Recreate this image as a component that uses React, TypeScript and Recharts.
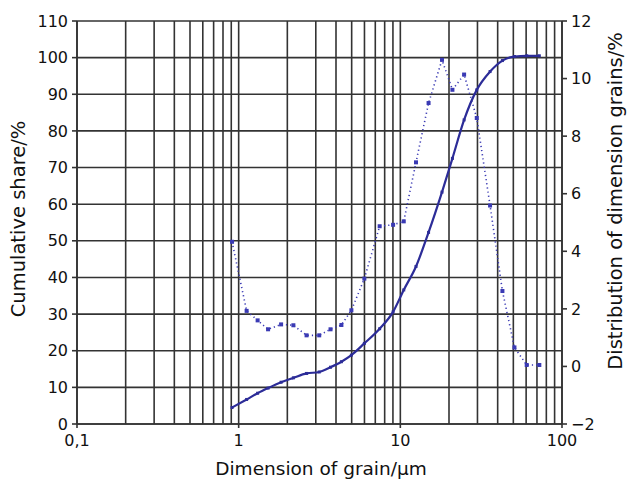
import React from "react";
import {
  LineChart,
  Line,
  XAxis,
  YAxis,
  CartesianGrid,
  ReferenceLine,
  Label,
} from "recharts";

// Grain size (µm) of each measured class
const sizes = [
  0.91, 1.12, 1.31, 1.52, 1.83, 2.18, 2.63, 3.15, 3.7, 4.32, 4.98, 5.99, 7.45,
  9.02, 10.5, 12.5, 14.95, 18.1, 21.0, 24.8, 29.7, 35.9, 42.8, 50.8, 60.5, 72.4,
];
// Cumulative share, % (left axis)
const cumulative = [
  4.5, 6.7, 8.4, 9.8, 11.4, 12.6, 13.8, 14.2, 15.5, 17.0, 18.8, 22.0, 26.0,
  30.6, 36.6, 43.0, 52.3, 63.3, 72.5, 83.0, 91.2, 96.2, 99.2, 100.3, 100.5,
  100.5,
];
// Distribution of dimension grains, % (right axis)
const distribution = [
  4.33, 1.93, 1.6, 1.29, 1.46, 1.43, 1.08, 1.08, 1.29, 1.44, 1.95, 3.05, 4.87,
  4.92, 5.04, 7.09, 9.15, 10.65, 9.61, 10.14, 8.63, 5.59, 2.62, 0.66, 0.05,
  0.05,
];

const xMajorTicks = [0.1, 1, 10, 100];
const xMinorLines = [
  0.2, 0.3, 0.4, 0.5, 0.6, 0.7, 0.8, 0.9, 2, 3, 4, 5, 6, 7, 8, 9, 20, 30, 40,
  50, 60, 70, 80, 90,
];
const leftTicks = [0, 10, 20, 30, 40, 50, 60, 70, 80, 90, 100, 110];
const rightTicks = [-2, 0, 2, 4, 6, 8, 10, 12];

const data = sizes.map((s, i) => ({
  size: s,
  cum: cumulative[i],
  dist: distribution[i],
}));

const FONT = "'DejaVu Sans', 'Liberation Sans', Arial, sans-serif";
const GRID = "#333333";
const SOLID = "#2c2c98";
const DOTTED = "#3a3ab4";

const fmtX = (v: number) => (v < 1 ? String(v).replace(".", ",") : String(v));
const fmtRight = (v: number) => (v < 0 ? "\u2212" + Math.abs(v) : String(v));

const SquareDot = (props: any) => {
  const { cx, cy } = props;
  if (cx == null || cy == null) return null;
  return <rect x={cx - 2} y={cy - 2} width={4} height={4} fill={DOTTED} />;
};

const SmallDot = (props: any) => {
  const { cx, cy } = props;
  if (cx == null || cy == null) return null;
  return <rect x={cx - 1.5} y={cy - 1.5} width={3} height={3} fill={SOLID} />;
};

const LeftTitle = () => (
  <text
    x={18}
    y={219}
    transform="rotate(-90 18 219)"
    textAnchor="middle"
    dominantBaseline="central"
    fontFamily={FONT}
    fontSize={19.5}
    fill="#111"
  >
    Cumulative share/%
  </text>
);

const RightTitle = () => (
  <text
    x={615}
    y={201}
    transform="rotate(-90 615 201)"
    textAnchor="middle"
    dominantBaseline="central"
    fontFamily={FONT}
    fontSize={19.5}
    fill="#111"
  >
    Distribution of dimension grains/%
  </text>
);

const BottomTitle = () => (
  <text
    x={321}
    y={475}
    textAnchor="middle"
    fontFamily={FONT}
    fontSize={18.5}
    fill="#111"
  >
    Dimension of grain/µm
  </text>
);

export default function App() {
  const tickStyle = { fontFamily: FONT, fontSize: 16, fill: "#111" };
  return (
    <div style={{ position: "absolute", left: 0, top: 0, background: "#fff" }}>
      <LineChart
        width={627}
        height={479}
        data={data}
        margin={{ top: 21, right: 20, left: 20, bottom: 25 }}
      >
        <CartesianGrid yAxisId="left" stroke={GRID} strokeWidth={1.6} />
        {xMinorLines.map((v) => (
          <ReferenceLine
            key={v}
            x={v}
            yAxisId="left"
            stroke={GRID}
            strokeWidth={1.6}
          />
        ))}
        <XAxis
          dataKey="size"
          type="number"
          scale="log"
          domain={[0.1, 100]}
          ticks={xMajorTicks}
          tickFormatter={fmtX}
          allowDataOverflow
          height={30}
          tick={tickStyle}
          tickSize={4}
          tickMargin={7}
          stroke={GRID}
          strokeWidth={1.6}
        >
          <Label content={<BottomTitle />} />
        </XAxis>
        <YAxis
          yAxisId="left"
          domain={[0, 110]}
          ticks={leftTicks}
          interval={0}
          width={57}
          tick={tickStyle}
          tickSize={5}
          tickMargin={4}
          stroke={GRID}
          strokeWidth={1.6}
        >
          <Label content={<LeftTitle />} />
        </YAxis>
        <YAxis
          yAxisId="right"
          orientation="right"
          domain={[-2, 12]}
          ticks={rightTicks}
          interval={0}
          tickFormatter={fmtRight}
          width={45}
          tick={tickStyle}
          tickSize={5}
          tickMargin={4}
          stroke={GRID}
          strokeWidth={1.6}
        >
          <Label content={<RightTitle />} />
        </YAxis>
        <Line
          yAxisId="right"
          dataKey="dist"
          type="linear"
          stroke={DOTTED}
          strokeWidth={1.6}
          strokeDasharray="1.2 3"
          dot={<SquareDot />}
          activeDot={false}
          isAnimationActive={false}
        />
        <Line
          yAxisId="left"
          dataKey="cum"
          type="monotone"
          stroke={SOLID}
          strokeWidth={2.2}
          dot={<SmallDot />}
          activeDot={false}
          isAnimationActive={false}
        />
      </LineChart>
    </div>
  );
}
